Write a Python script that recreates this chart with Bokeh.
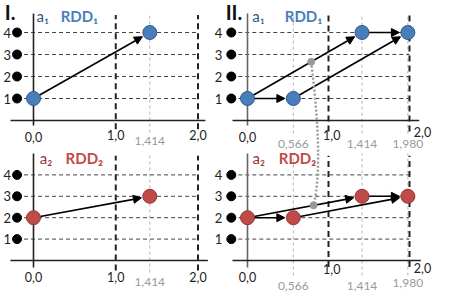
import math
from bokeh.plotting import figure
from bokeh.models import Range1d, Arrow, NormalHead
from bokeh.core.properties import value
from bokeh.embed import file_html
from bokeh.resources import INLINE

# ---------------- data ----------------
levels = [1, 2, 3, 4]
level_labels = ["1", "2", "3", "4"]
major_ticks = [0.0, 1.0, 2.0]
major_labels = ["0,0", "1,0", "2,0"]

i_x = [0.0, 1.414]
i_rdd1_y = [1, 4]
i_rdd2_y = [2, 3]
i_edges = [(0, 1)]
i_marks = [1.414]
i_mark_labels = ["1,414"]

ii_x = [0.0, 0.566, 1.414, 1.980]
ii_rdd1_y = [1, 1, 4, 4]
ii_rdd2_y = [2, 2, 3, 3]
ii_edges = [(0, 1), (0, 2), (1, 3), (2, 3)]
ii_marks = [0.566, 1.414, 1.980]
ii_mark_labels = ["0,566", "1,414", "1,980"]
ii_gray_x = [0.786, 0.815]  # grey points on the diagonal arrows (RDD1, RDD2)

# ---------------- layout ----------------
W, H = 449, 299
XPAN = {"L": (33.0, 82.25), "R": (247.0, 81.0)}   # origin px from left, px per unit
YPAN = {"T": (120.0, 22.0), "B": (260.0, 21.4)}   # origin px from top, px per unit


def xpx(xr, x):
    o, s = XPAN[xr]
    return o + x * s


def ypx(yr, y):
    o, s = YPAN[yr]
    return o - y * s


def xdata(xr, px):
    o, s = XPAN[xr]
    return (px - o) / s


def ydata(yr, py):
    o, s = YPAN[yr]
    return (o - py) / s


FONT = value("Lato")

p = figure(width=W, height=H, x_range=Range1d(0, W), y_range=Range1d(0, H),
           output_backend="svg", toolbar_location=None, min_border=0,
           x_axis_location=None, y_axis_location=None,
           outline_line_color=None, background_fill_color="white",
           border_fill_color="white")
p.grid.visible = False
p.extra_x_ranges = {k: Range1d(-o / s, (W - o) / s) for k, (o, s) in XPAN.items()}
p.extra_y_ranges = {k: Range1d(-(H - o) / s, o / s) for k, (o, s) in YPAN.items()}


def panel(xr, yr, xs, ys, edges, marks, mark_labels, fill, edge, ax_color, cfg,
          name, rdd):
    kw = dict(x_range_name=xr, y_range_name=yr)
    n = len(marks)
    # grey verticals at the point positions
    p.segment(x0=marks, y0=[cfg["gv"][0]] * n, x1=marks, y1=[cfg["gv"][1]] * n,
              line_color="#b4b4b4", line_width=1, line_dash="3 3", **kw)
    # level lines
    p.segment(x0=[-0.2] * len(levels), y0=levels, x1=[2.0] * len(levels), y1=levels,
              line_color="#444444", line_width=1, line_dash="4 3", **kw)
    # major verticals
    mt = major_ticks[1:]
    p.segment(x0=mt, y0=[cfg["mv"][0]] * len(mt), x1=mt, y1=[cfg["mv"][1]] * len(mt),
              line_color="#222222", line_width=2, line_dash="6 4", **kw)
    # axes
    p.segment(x0=[0], y0=[cfg["yax"][0]], x1=[0], y1=[cfg["yax"][1]],
              line_color=ax_color, line_width=1.6, **kw)
    p.segment(x0=[cfg["xax"][0]], y0=[0], x1=[cfg["xax"][1]], y1=[0],
              line_color="#222222", line_width=1.6, **kw)
    # black level dots + labels
    p.scatter(x=[-0.2] * len(levels), y=levels, size=9, color="black", **kw)
    if cfg.get("lab_x") is not None:
        p.text(x=[cfg["lab_x"]] * len(levels), y=levels, text=level_labels,
               text_font=FONT, text_font_size="13px", text_color="#222222",
               text_align="center", text_baseline="middle", **kw)
    # tick labels
    p.text(x=[t + d for t, d in zip(major_ticks, cfg["maj_dx"])], y=cfg["maj_y"],
           text=major_labels, text_font=FONT, text_font_size="12.5px",
           text_color="#222222", text_align="center", text_baseline="middle", **kw)
    p.text(x=marks, y=cfg["mark_y"], text=mark_labels, text_font=FONT,
           text_font_size="12px", text_color="#9a9a9a", text_align="center",
           text_baseline="middle", **kw)
    # arrows
    for a, b in edges:
        x0, y0, x1, y1 = xs[a], ys[a], xs[b], ys[b]
        px0, py0, px1, py1 = xpx(xr, x0), ypx(yr, y0), xpx(xr, x1), ypx(yr, y1)
        d = math.hypot(px1 - px0, py1 - py0)
        ux, uy = (px1 - px0) / d, (py1 - py0) / d
        ex, ey = px1 - ux * 8.5, py1 - uy * 8.5
        p.add_layout(Arrow(x_start=x0, y_start=y0, x_end=xdata(xr, ex), y_end=ydata(yr, ey),
                           line_color="black", line_width=1.6, **kw,
                           end=NormalHead(size=8, fill_color="black", line_color="black")))
    # points
    p.scatter(x=xs, y=ys, size=14, fill_color=fill, line_color=edge, line_width=1,
              level="overlay", **kw)
    # panel names
    p.text(x=[cfg["a_x"]], y=[cfg["name_y"]], text=[name], text_font=FONT,
           text_font_size="15px", text_color=edge, text_baseline="middle", **kw)
    p.text(x=[cfg["rdd_x"]], y=[cfg["name_y"]], text=[rdd], text_font=FONT,
           text_font_size="15px", text_font_style="bold", text_color=fill,
           text_baseline="middle", **kw)


BLUE, BLUE_D = "#4A7EBB", "#30598C"
RED, RED_D = "#BE4B48", "#943634"

cfg_tl = dict(gv=(-0.55, 4.86), mv=(-0.4, 4.8), yax=(-0.23, 4.86), xax=(-0.28, 2.09),
              lab_x=-0.32, maj_dx=[0, 0, 0], maj_y=[-0.77, -0.68, -0.68], mark_y=[-0.92],
              a_x=0.036, rdd_x=0.33, name_y=4.73)
cfg_tr = dict(gv=(-0.6, 4.86), mv=(-0.5, 4.8), yax=(-0.23, 4.86), xax=(-0.185, 2.12),
              lab_x=-0.358, maj_dx=[0, 0.04, 0.16], maj_y=[-0.76, -0.68, -0.5],
              mark_y=[-1.06, -1.05, -1.05], a_x=0.058, rdd_x=0.46, name_y=4.73)
cfg_bl = dict(gv=(-0.56, 5.0), mv=(-0.47, 4.9), yax=(-0.33, 5.0), xax=(-0.28, 2.12),
              lab_x=-0.32, maj_dx=[0, 0, 0], maj_y=[-0.78, -0.75, -0.75], mark_y=[-1.01],
              a_x=0.077, rdd_x=0.39, name_y=4.8)
cfg_br = dict(gv=(-0.7, 5.0), mv=(-0.3, 4.9), yax=(-0.33, 5.0), xax=(-0.185, 2.14),
              lab_x=-0.358, maj_dx=[0, 0.04, 0.16], maj_y=[-0.78, -0.42, -0.34],
              mark_y=[-1.17, -1.17, -1.06], a_x=0.062, rdd_x=0.386, name_y=4.8)

panel("L", "T", i_x, i_rdd1_y, i_edges, i_marks, i_mark_labels, BLUE, BLUE_D, "#222222",
      cfg_tl, "a₁", "RDD₁")
panel("R", "T", ii_x, ii_rdd1_y, ii_edges, ii_marks, ii_mark_labels, BLUE, BLUE_D, "#666666",
      cfg_tr, "a₁", "RDD₁")
panel("L", "B", i_x, i_rdd2_y, i_edges, i_marks, i_mark_labels, RED, RED_D, "#222222",
      cfg_bl, "a₂", "RDD₂")
panel("R", "B", ii_x, ii_rdd2_y, ii_edges, ii_marks, ii_mark_labels, RED, RED_D, "#666666",
      cfg_br, "a₂", "RDD₂")

# grey points on the diagonal arrows of II and the dotted link between them
gy_top = ii_rdd1_y[0] + (ii_rdd1_y[2] - ii_rdd1_y[0]) * ii_gray_x[0] / ii_x[2]
gy_bot = ii_rdd2_y[0] + (ii_rdd2_y[2] - ii_rdd2_y[0]) * ii_gray_x[1] / ii_x[2]
gy_bot_T = ydata("T", ypx("B", gy_bot))
p.bezier(x0=[ii_gray_x[0]], y0=[gy_top], x1=[ii_gray_x[1]], y1=[gy_bot_T],
         cx0=[ii_gray_x[0] + 0.075], cy0=[gy_top - 2.2],
         cx1=[ii_gray_x[1] + 0.105], cy1=[gy_bot_T + 1.5],
         line_color="#9a9a9a", line_width=2.5, line_dash="2 2",
         x_range_name="R", y_range_name="T", level="overlay")
p.scatter(x=[ii_gray_x[0]], y=[gy_top], size=7, color="#999999", level="overlay",
          x_range_name="R", y_range_name="T")
p.scatter(x=[ii_gray_x[1]], y=[gy_bot], size=7, color="#999999", level="overlay",
          x_range_name="R", y_range_name="B")

# section titles
p.text(x=[-0.35], y=[4.95], text=["I."], text_font=FONT, text_font_size="20px",
       text_font_style="bold", text_color="#111111", text_baseline="middle",
       x_range_name="L", y_range_name="T")
p.text(x=[-0.27], y=[4.95], text=["II."], text_font=FONT, text_font_size="20px",
       text_font_style="bold", text_color="#111111", text_baseline="middle",
       x_range_name="R", y_range_name="T")

open("out.html", "w").write(file_html(p, INLINE))
